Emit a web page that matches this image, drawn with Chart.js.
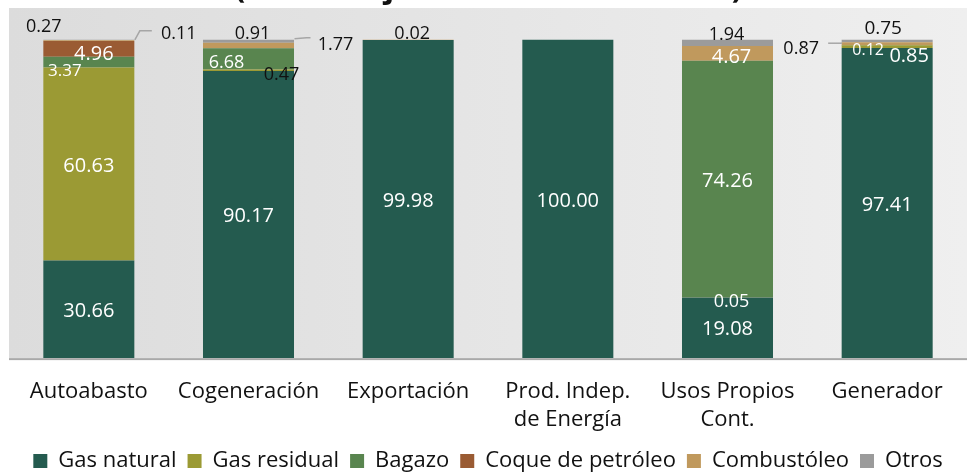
<!DOCTYPE html>
<html>
<head>
<meta charset="utf-8">
<script src="https://cdn.jsdelivr.net/npm/chart.js@4.4.1/dist/chart.umd.min.js"></script>
<style>
    body { margin: 0; background: #fff; overflow: hidden; }
    .wrap { position: relative; width: 977px; height: 474px; }
    .titulo {
        position: absolute; top: -35px; left: 0; width: 977px; text-align: center;
        font-family: "Open Sans", sans-serif; font-weight: bold; font-size: 31px; color: #111;
    }
    canvas { position: absolute; top: 0; left: 0; }
</style>
</head>
<body>
<div class="wrap">
    <canvas id="barCanvas" width="977" height="474"></canvas>
    <div class="titulo">(Porcentaje con base en MMBTU)</div>
</div>
<script>
// datos (porcentaje)
var categorias = [["Autoabasto"], ["Cogeneración"], ["Exportación"], ["Prod. Indep.", "de Energía"], ["Usos Propios", "Cont."], ["Generador"]];
var gasNatural = [30.66, 90.17, 99.98, 100.00, 19.08, 97.41];
var gasResidual = [60.63, 0.47, 0, 0, 0.05, 0.85];
var bagazo = [3.37, 6.68, 0, 0, 74.26, 0.12];
var coque = [4.96, 0, 0, 0, 0, 0];
var combustoleo = [0.27, 1.77, 0.02, 0, 4.67, 0.87];
var otros = [0.11, 0.91, 0, 0, 1.94, 0.75];

var colores = {
    gasNatural: '#245b4f',
    gasResidual: '#9b9a34',
    bagazo: '#59854f',
    coque: '#9a5b33',
    combustoleo: '#c0995d',
    otros: '#9b9b9b'
};

var fuente = '"Open Sans", sans-serif';

// ajustes de etiquetas pequeñas: "categoria-dataset" -> desplazamiento
var ajustes = {
    '0-2': { dx: -24, dy: 7, color: '#fff', size: 17 },
    '0-3': { dx: 5, dy: 3 },
    '0-4': { dx: -45, dy: -16, color: '#111', size: 18 },
    '0-5': { dx: 90, dy: -8, color: '#111', size: 18, linea: [[46, 0], [51, -9], [63, -9]] },
    '1-1': { dx: 33, dy: 3, color: '#111', size: 18 },
    '1-2': { dx: -22, dy: 2, size: 18 },
    '1-4': { dx: 87, dy: -3, color: '#111', size: 18, linea: [[46, -4], [58, -5], [62, -5]] },
    '1-5': { dx: 4, dy: -9, color: '#111', size: 18 },
    '2-4': { dx: 4, dy: -8, color: '#111', size: 18 },
    '4-1': { dx: 4, dy: 3, size: 18 },
    '4-4': { dx: 4, dy: 2 },
    '4-5': { dx: -1, dy: -10, color: '#111', size: 18 },
    '5-1': { dx: 22, dy: 8 },
    '5-2': { dx: -19, dy: 3, size: 16 },
    '5-4': { dx: -86, dy: 3, color: '#111', size: 18, linea: [[-45, 1], [-59, 1]] },
    '5-5': { dx: -4, dy: -14, color: '#111', size: 19 }
};

var fondoPlugin = {
    id: 'fondo',
    beforeInit: function (chart) {
        // acercar la leyenda al borde inferior
        var fitOriginal = chart.legend.fit;
        chart.legend.fit = function () {
            fitOriginal.call(this);
            this.height -= 8;
        };
    },
    beforeDraw: function (chart) {
        var a = chart.chartArea;
        var ctx = chart.ctx;
        var g = ctx.createLinearGradient(a.left, 0, a.right, 0);
        g.addColorStop(0, '#dcdcdc');
        g.addColorStop(1, '#efefef');
        ctx.save();
        ctx.fillStyle = g;
        ctx.fillRect(a.left, a.top, a.right - a.left, a.bottom - a.top);
        ctx.fillStyle = '#a9a9a9';
        ctx.fillRect(a.left, a.bottom, a.right - a.left, 2);
        ctx.restore();
    }
};

var etiquetasPlugin = {
    id: 'etiquetas',
    afterDatasetsDraw: function (chart) {
        var ctx = chart.ctx;
        ctx.save();
        ctx.textAlign = 'center';
        ctx.textBaseline = 'middle';
        chart.data.datasets.forEach(function (ds, di) {
            var meta = chart.getDatasetMeta(di);
            meta.data.forEach(function (bar, ci) {
                var v = ds.data[ci];
                if (!v) return;
                var aj = ajustes[ci + '-' + di] || {};
                var cx = bar.x;
                var cy = (bar.y + bar.base) / 2 + 2;
                ctx.font = (aj.size || 20) + 'px ' + fuente;
                ctx.fillStyle = aj.color || '#fff';
                ctx.fillText(v.toFixed(2), cx + (aj.dx || 0), cy + (aj.dy || 0));
                if (aj.linea) {
                    ctx.strokeStyle = '#a6a6a6';
                    ctx.lineWidth = 1.5;
                    ctx.beginPath();
                    aj.linea.forEach(function (p, i) {
                        if (i === 0) ctx.moveTo(cx + p[0], bar.y + p[1]);
                        else ctx.lineTo(cx + p[0], bar.y + p[1]);
                    });
                    ctx.stroke();
                }
            });
        });
        ctx.restore();
    }
};

function serie(label, data, color) {
    return {
        label: label,
        data: data,
        backgroundColor: color,
        borderWidth: 0,
        barPercentage: 0.57,
        categoryPercentage: 1
    };
}

var ctx = document.getElementById('barCanvas').getContext('2d');
var myBar = new Chart(ctx, {
    type: 'bar',
    data: {
        labels: categorias,
        datasets: [
            serie('Gas natural', gasNatural, colores.gasNatural),
            serie('Gas residual', gasResidual, colores.gasResidual),
            serie('Bagazo', bagazo, colores.bagazo),
            serie('Coque de petróleo', coque, colores.coque),
            serie('Combustóleo', combustoleo, colores.combustoleo),
            serie('Otros', otros, colores.otros)
        ]
    },
    options: {
        responsive: false,
        animation: false,
        layout: { padding: { left: 9, right: 10, top: 8, bottom: 0 } },
        scales: {
            x: {
                stacked: true,
                grid: { display: false },
                border: { display: false },
                ticks: {
                    color: '#111',
                    font: { family: fuente, size: 22, lineHeight: 1.27 },
                    padding: 12,
                    maxRotation: 0
                },
                afterFit: function (scale) {
                    scale.height -= 7;
                }
            },
            y: {
                stacked: true,
                display: false,
                min: 0,
                max: 110
            }
        },
        plugins: {
            legend: {
                position: 'bottom',
                labels: {
                    color: '#111',
                    font: { family: fuente, size: 22 },
                    boxWidth: 14,
                    boxHeight: 14,
                    padding: 11
                }
            },
            tooltip: { enabled: false }
        }
    },
    plugins: [fondoPlugin, etiquetasPlugin]
});
</script>
</body>
</html>
